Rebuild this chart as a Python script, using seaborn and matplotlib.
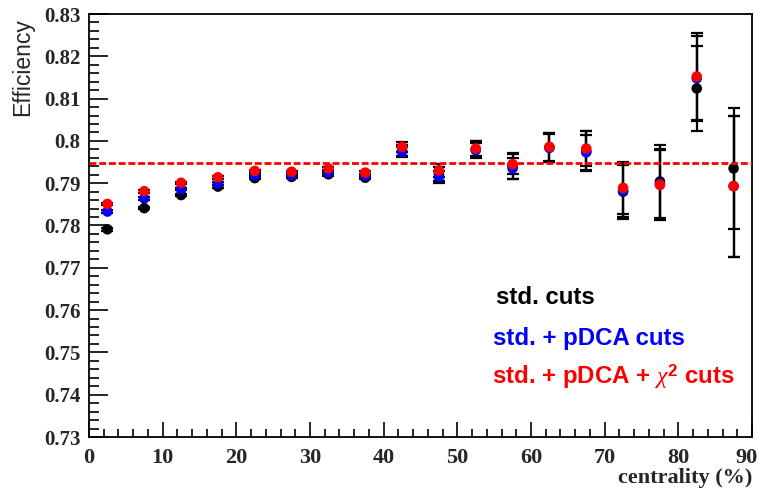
import numpy as np
import pandas as pd
import matplotlib
matplotlib.use("Agg")
import matplotlib.pyplot as plt
import seaborn as sns
from matplotlib.ticker import MultipleLocator
from matplotlib.transforms import ScaledTranslation

# ---- data ----
centrality = [2.5, 7.5, 12.5, 17.5, 22.5, 27.5, 32.5, 37.5, 42.5,
              47.5, 52.5, 57.5, 62.5, 67.5, 72.5, 77.5, 82.5, 87.5]
eff_std = [0.7791, 0.7841, 0.7872, 0.7892, 0.7912, 0.7915, 0.7921, 0.7913, 0.7977,
           0.7922, 0.7980, 0.7940, 0.7984, 0.7976, 0.7880, 0.7904, 0.8124, 0.7935]
err_std = [0.0003, 0.0003, 0.0003, 0.0003, 0.0003, 0.0003, 0.0003, 0.0004, 0.0013,
           0.0017, 0.0019, 0.0031, 0.0034, 0.0047, 0.0065, 0.0086, 0.0100, 0.0143]
eff_pdca = [0.7833, 0.7864, 0.7886, 0.7899, 0.7919, 0.7919, 0.7925, 0.7918, 0.7974,
            0.7915, 0.7978, 0.7935, 0.7984, 0.7973, 0.7882, 0.7898, 0.8148, 0.7893]
err_pdca = [0.0003, 0.0003, 0.0003, 0.0003, 0.0003, 0.0003, 0.0003, 0.0004, 0.0012,
            0.0015, 0.0018, 0.0024, 0.0033, 0.0042, 0.0062, 0.0082, 0.0100, 0.0167]
eff_chi2 = [0.7851, 0.7881, 0.7901, 0.7914, 0.7929, 0.7927, 0.7935, 0.7925, 0.7986,
            0.7930, 0.7982, 0.7945, 0.7986, 0.7982, 0.7889, 0.7896, 0.8152, 0.7893]
err_chi2 = [0.0003, 0.0003, 0.0003, 0.0003, 0.0003, 0.0003, 0.0003, 0.0004, 0.0012,
            0.0015, 0.0018, 0.0024, 0.0033, 0.0042, 0.0062, 0.0082, 0.0102, 0.0167]
reference_level = 0.7947
series_labels = ["std. cuts", "std. + pDCA cuts", r"std. + pDCA + $\chi^{2}$ cuts"]
series_colors = ["black", "#0000ff", "#ff0000"]
x_label = "centrality (%)"
y_label = "Efficiency"

df = pd.concat([
    pd.DataFrame({"centrality": centrality, "eff": eff_std, "err": err_std, "series": "std"}),
    pd.DataFrame({"centrality": centrality, "eff": eff_pdca, "err": err_pdca, "series": "pdca"}),
    pd.DataFrame({"centrality": centrality, "eff": eff_chi2, "err": err_chi2, "series": "chi2"}),
], ignore_index=True)

sns.set_style("white")
plt.rcParams["font.family"] = ["Liberation Sans", "DejaVu Sans"]
plt.rcParams["mathtext.fontset"] = "custom"
plt.rcParams["mathtext.it"] = "Liberation Serif:italic"
plt.rcParams["mathtext.rm"] = "Liberation Sans:bold"

fig = plt.figure(figsize=(7.58, 4.90), dpi=100)
ax = fig.add_axes([89 / 758, 53 / 490, 663 / 758, 423 / 490])

# error bars (black) under markers
for key in ["std", "pdca", "chi2"]:
    sub = df[df.series == key]
    ax.errorbar(sub.centrality, sub.eff, yerr=sub.err, fmt="none", ecolor="black",
                elinewidth=1.6, capsize=4, capthick=1.6, zorder=2)

sns.scatterplot(data=df, x="centrality", y="eff", hue="series",
                hue_order=["std", "pdca", "chi2"], palette=series_colors,
                s=58, edgecolor="none", legend=False, ax=ax, zorder=3)

ax.axhline(reference_level, color="#ff0000", linestyle=(0, (2.5, 1.0)), linewidth=2.0, zorder=4)

ax.set_xlim(0, 90)
ax.set_ylim(0.73, 0.83)
ax.xaxis.set_major_locator(MultipleLocator(10))
ax.xaxis.set_minor_locator(MultipleLocator(2))
ax.yaxis.set_major_locator(MultipleLocator(0.01))
ax.yaxis.set_minor_locator(MultipleLocator(0.002))
ax.yaxis.set_major_formatter(matplotlib.ticker.FuncFormatter(
    lambda v, p: "0.8" if abs(v - 0.8) < 1e-9 else "%.2f" % v))

ax.tick_params(axis="both", which="both", direction="in",
               bottom=True, left=True, top=False, right=False, color="black")
ax.tick_params(axis="y", which="major", length=14, width=1.2, pad=6)
ax.tick_params(axis="y", which="minor", length=7, width=1.2)
ax.tick_params(axis="x", which="major", length=11, width=1.2, pad=8)
ax.tick_params(axis="x", which="minor", length=5.5, width=1.2)
for lab in ax.get_xticklabels():
    lab.set_family(["Liberation Serif"])
    lab.set_fontweight("bold")
    lab.set_fontsize(16)
for lab in ax.get_yticklabels():
    lab.set_family(["Liberation Serif"])
    lab.set_fontweight("bold")
    lab.set_fontsize(15)
# nudge the last x tick label so it stays inside the canvas
for tick in ax.xaxis.get_major_ticks():
    if abs(tick.get_loc() - 90) < 1e-9:
        tick.label1.set_transform(tick.label1.get_transform() +
                                  ScaledTranslation(-5 / 100, 0, fig.dpi_scale_trans))
for sp in ax.spines.values():
    sp.set_linewidth(1.3)
    sp.set_color("black")

ax.set_xlabel("")
ax.set_ylabel("")
fig.text(752 / 758, 1 - 478 / 490, x_label, ha="right", va="center",
         family=["Liberation Serif"], fontweight="bold", fontsize=16)
fig.text(23 / 758, 1 - 18 / 490, y_label, ha="center", va="top", rotation=90,
         fontsize=16.5)

ax.text(55.3, 0.7629, series_labels[0], color=series_colors[0], fontsize=17.3,
        fontweight="bold", va="center", ha="left")
ax.text(54.8, 0.7534, series_labels[1], color=series_colors[1], fontsize=17.3,
        fontweight="bold", va="center", ha="left")
ax.text(54.7, 0.7442, series_labels[2], color=series_colors[2], fontsize=17.3,
        fontweight="bold", va="center", ha="left")

fig.savefig("out.png", dpi=100)
